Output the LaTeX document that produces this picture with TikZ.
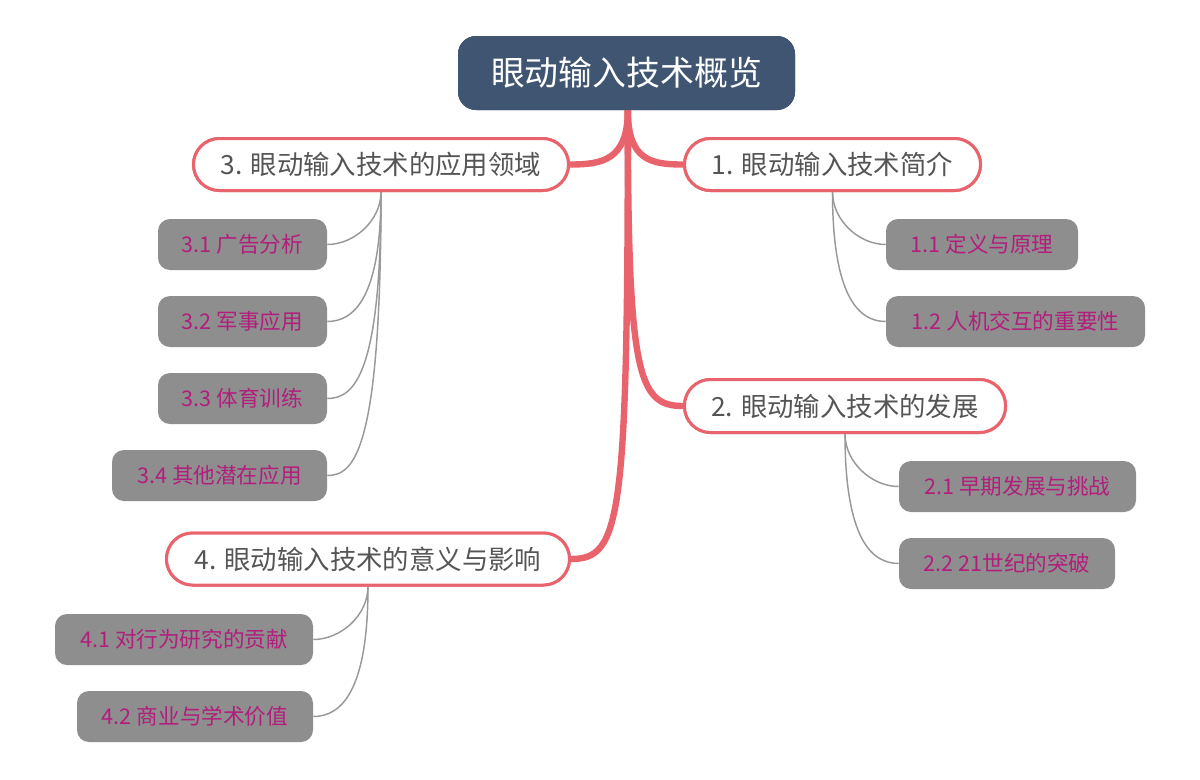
\documentclass[tikz,border=0pt]{standalone}
\usepackage{fontspec}
\setmainfont{Noto Sans CJK SC}
\usetikzlibrary{calc}
\definecolor{rootblue}{HTML}{3F5571}
\definecolor{brred}{HTML}{E8636C}
\definecolor{brtext}{HTML}{555555}
\definecolor{leafgray}{HTML}{8E8E8E}
\definecolor{leaftext}{HTML}{B21E7C}
\definecolor{subgray}{HTML}{999999}
\begin{document}
\begin{tikzpicture}[x=0.75pt,y=-0.75pt,
  rootbox/.style={fill=rootblue,rounded corners=13.5pt,minimum width=252.75pt,minimum height=55.5pt,
    text=white,font=\fontsize{25.4}{30}\selectfont,inner sep=0pt},
  branchbox/.style={draw=brred,line width=2.25pt,fill=white,rounded corners=19.5pt,minimum height=39pt,
    text=brtext,font=\fontsize{19.8}{24}\selectfont,inner sep=0pt},
  leafbox/.style={fill=leafgray,rounded corners=9pt,minimum height=38.25pt,
    text=leaftext,font=\fontsize{16.2}{19}\selectfont,inner sep=0pt},
  mainline/.style={draw=brred,line width=4.8pt},
  subline/.style={draw=subgray,line width=1.1pt}]
\useasboundingbox[fill=white] (0,0) rectangle (1200,779);

\node[rootbox] (root) at (626.5,73) {眼动输入技术概览};

\node[branchbox,minimum width=222pt] (b1) at (832.5,164.5) {1. 眼动输入技术简介};
\node[branchbox,minimum width=281.25pt] (b3) at (381,164.5) {3. 眼动输入技术的应用领域};
\node[branchbox,minimum width=240.75pt,minimum height=39.75pt] (b2) at (845,406) {2. 眼动输入技术的发展};
\node[branchbox,minimum width=302.25pt] (b4) at (368,559) {4. 眼动输入技术的意义与影响};

\node[leafbox,minimum width=126.75pt] (l31) at (242.5,244.5) {3.1 广告分析};
\node[leafbox,minimum width=126.75pt] (l32) at (242.5,321.5) {3.2 军事应用};
\node[leafbox,minimum width=126.75pt] (l33) at (242.5,398.5) {3.3 体育训练};
\node[leafbox,minimum width=161.25pt] (l34) at (219.5,475.5) {3.4 其他潜在应用};
\node[leafbox,minimum width=144pt] (l11) at (982,244.5) {1.1 定义与原理};
\node[leafbox,minimum width=194.25pt] (l12) at (1015.5,321.5) {1.2 人机交互的重要性};
\node[leafbox,minimum width=177.75pt] (l21) at (1017.5,486.5) {2.1 早期发展与挑战};
\node[leafbox,minimum width=162pt] (l22) at (1007,563.5) {2.2 21世纪的突破};
\node[leafbox,minimum width=193.5pt] (l41) at (184,639.5) {4.1 对行为研究的贡献};
\node[leafbox,minimum width=177pt] (l42) at (195,716.5) {4.2 商业与学术价值};

\draw[mainline] ([xshift=1pt]root.south) .. controls +(0,50) and +(-32,0) .. (b1.west);
\draw[mainline] ([xshift=1pt]root.south) .. controls +(0,50) and +(32,0) .. (b3.east);
\draw[mainline] ([xshift=1pt]root.south) .. controls +(0,265) and +(-45,0) .. (b2.west);
\draw[mainline] ([xshift=1pt]root.south) .. controls +(0,410) and +(50,0) .. (b4.east);

\foreach \b/\l in {b3/l31,b3/l32,b3/l33,b3/l34,b4/l41,b4/l42}{
  \draw[subline] (\b.south) .. controls ($(\b.south|-\l.east)+(0,-24)$) and ($(\b.south|-\l.east)!0.5!(\l.east)$) .. (\l.east);
}
\foreach \b/\l in {b1/l11,b1/l12,b2/l21,b2/l22}{
  \draw[subline] (\b.south) .. controls ($(\b.south|-\l.west)+(0,-24)$) and ($(\b.south|-\l.west)!0.5!(\l.west)$) .. (\l.west);
}

% redraw nodes over connectors
\node[rootbox] at (root) {眼动输入技术概览};
\node[branchbox,minimum width=222pt] at (b1) {1. 眼动输入技术简介};
\node[branchbox,minimum width=281.25pt] at (b3) {3. 眼动输入技术的应用领域};
\node[branchbox,minimum width=240.75pt,minimum height=39.75pt] at (b2) {2. 眼动输入技术的发展};
\node[branchbox,minimum width=302.25pt] at (b4) {4. 眼动输入技术的意义与影响};
\end{tikzpicture}
\end{document}
